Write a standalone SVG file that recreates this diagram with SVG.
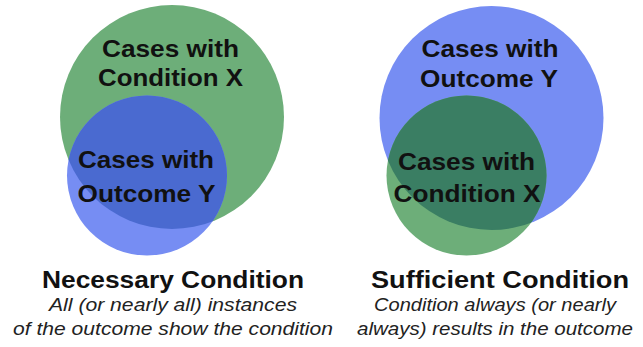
<svg xmlns="http://www.w3.org/2000/svg" width="643" height="347" viewBox="0 0 643 347">
<style>
.lbl{font-family:"Liberation Sans",Arial,sans-serif;font-weight:bold;font-size:24px;fill:#111;text-anchor:middle}
.ttl{font-family:"Liberation Sans",Arial,sans-serif;font-weight:bold;font-size:23px;fill:#111;text-anchor:middle}
.sub{font-family:"Liberation Sans",Arial,sans-serif;font-style:italic;font-size:18px;fill:#222;text-anchor:middle}
.green{fill:#6dae79}
.blue{fill:#768df3}
.dblue{fill:#4a6ad0}
.dgreen{fill:#3a7e63}
</style>
<defs>
<clipPath id="clipL"><circle cx="172" cy="117" r="112"/></clipPath>
<clipPath id="clipR"><circle cx="491.5" cy="118" r="112"/></clipPath>
</defs>
<rect width="643" height="347" fill="#ffffff"/>
<g id="necessary">
<g id="necessary-condition-x">
<circle class="green" cx="172" cy="117" r="112"/>
<text class="lbl" x="170.5" y="57" textLength="137" lengthAdjust="spacingAndGlyphs">Cases with</text>
<text class="lbl" x="170.5" y="86" textLength="145" lengthAdjust="spacingAndGlyphs">Condition X</text>
</g>
<g id="necessary-outcome-y">
<circle class="blue" cx="147" cy="175.5" r="80"/>
<circle class="dblue" cx="147" cy="175.5" r="80" clip-path="url(#clipL)"/>
<text class="lbl" x="146" y="168" textLength="136" lengthAdjust="spacingAndGlyphs">Cases with</text>
<text class="lbl" x="146.5" y="201.5" textLength="138" lengthAdjust="spacingAndGlyphs">Outcome Y</text>
</g>
<g id="necessary-caption">
<text class="ttl" x="173" y="288" textLength="262" lengthAdjust="spacingAndGlyphs">Necessary Condition</text>
<text class="sub" x="173" y="311" textLength="248" lengthAdjust="spacingAndGlyphs">All (or nearly all) instances</text>
<text class="sub" x="173" y="335" textLength="320" lengthAdjust="spacingAndGlyphs">of the outcome show the condition</text>
</g>
</g>
<g id="sufficient">
<g id="sufficient-outcome-y">
<circle class="blue" cx="491.5" cy="118" r="112"/>
<text class="lbl" x="490" y="57" textLength="137" lengthAdjust="spacingAndGlyphs">Cases with</text>
<text class="lbl" x="489" y="87" textLength="138" lengthAdjust="spacingAndGlyphs">Outcome Y</text>
</g>
<g id="sufficient-condition-x">
<circle class="green" cx="466.5" cy="175.5" r="80"/>
<circle class="dgreen" cx="466.5" cy="175.5" r="80" clip-path="url(#clipR)"/>
<text class="lbl" x="466.5" y="170" textLength="137" lengthAdjust="spacingAndGlyphs">Cases with</text>
<text class="lbl" x="467" y="201.5" textLength="147" lengthAdjust="spacingAndGlyphs">Condition X</text>
</g>
<g id="sufficient-caption">
<text class="ttl" x="500" y="288" textLength="258" lengthAdjust="spacingAndGlyphs">Sufficient Condition</text>
<text class="sub" x="495" y="311" textLength="242" lengthAdjust="spacingAndGlyphs">Condition always (or nearly</text>
<text class="sub" x="495" y="335" textLength="276" lengthAdjust="spacingAndGlyphs">always) results in the outcome</text>
</g>
</g>
<g id="connectors"/>
</svg>
